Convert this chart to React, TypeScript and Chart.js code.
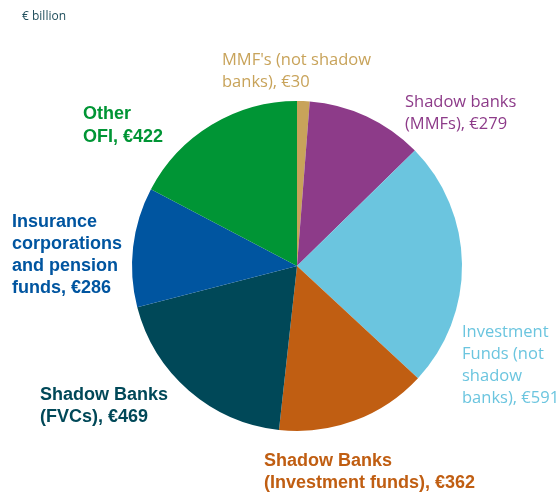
import React, { useEffect, useRef } from "react";
import { Chart, registerables } from "chart.js";

Chart.register(...registerables);

const categories = [
  "MMF's (not shadow banks)",
  "Shadow banks (MMFs)",
  "Investment Funds (not shadow banks)",
  "Shadow Banks (Investment funds)",
  "Shadow Banks (FVCs)",
  "Insurance corporations and pension funds",
  "Other OFI",
];
const values = [30, 279, 591, 362, 469, 286, 422];
const colors = ["#C8A35A", "#8D3B89", "#6BC5DF", "#C05E12", "#004858", "#0055A0", "#009535"];
const labelLines = [
  ["MMF's (not shadow", "banks), €30"],
  ["Shadow banks", "(MMFs), €279"],
  ["Investment", "Funds (not", "shadow", "banks), €591"],
  ["Shadow Banks", "(Investment funds), €362"],
  ["Shadow Banks", "(FVCs), €469"],
  ["Insurance", "corporations", "and pension", "funds, €286"],
  ["Other", "OFI, €422"],
];
const unitLabel = "€ billion";

// label layout (left x, first-line center y, line gap, font)
const REG = "16.5px 'Open Sans'";
const BOLD = "bold 18px 'Liberation Sans'";
const labelLayout = [
  { x: 222, y: 60, gap: 22, font: REG },
  { x: 405, y: 102, gap: 22, font: REG },
  { x: 462, y: 332, gap: 22, font: REG },
  { x: 264, y: 461, gap: 22, font: BOLD },
  { x: 40, y: 395, gap: 22, font: BOLD },
  { x: 12, y: 222, gap: 22, font: BOLD },
  { x: 83, y: 114, gap: 23, font: BOLD },
];

const labelPlugin = {
  id: "sliceLabels",
  afterDraw(chart: any) {
    const ctx = chart.ctx;
    ctx.save();
    ctx.textBaseline = "middle";
    ctx.textAlign = "left";
    ctx.font = "12px 'Open Sans'";
    ctx.fillStyle = "#1E4D5B";
    ctx.fillText(unitLabel, 22, 17);
    labelLines.forEach((lines, i) => {
      const L = labelLayout[i];
      ctx.font = L.font;
      ctx.fillStyle = colors[i];
      lines.forEach((t, j) => ctx.fillText(t, L.x, L.y + j * L.gap));
    });
    ctx.restore();
  },
};

export default function App() {
  const ref = useRef<HTMLCanvasElement | null>(null);
  useEffect(() => {
    if (!ref.current) return;
    const chart = new Chart(ref.current, {
      type: "pie",
      data: {
        labels: categories,
        datasets: [
          {
            data: values,
            backgroundColor: colors,
            borderWidth: 0,
          },
        ],
      },
      options: {
        responsive: false,
        maintainAspectRatio: false,
        animation: false,
        devicePixelRatio: 1,
        layout: { padding: { left: 132, right: 95, top: 101, bottom: 61 } },
        plugins: {
          legend: { display: false },
          tooltip: { enabled: false },
          title: { display: false },
        },
      },
      plugins: [labelPlugin],
    });
    return () => chart.destroy();
  }, []);
  return (
    <div style={{ position: "absolute", left: 0, top: 0, width: 557, height: 492, background: "#fff" }}>
      <canvas ref={ref} width={557} height={492} style={{ display: "block" }} />
    </div>
  );
}
